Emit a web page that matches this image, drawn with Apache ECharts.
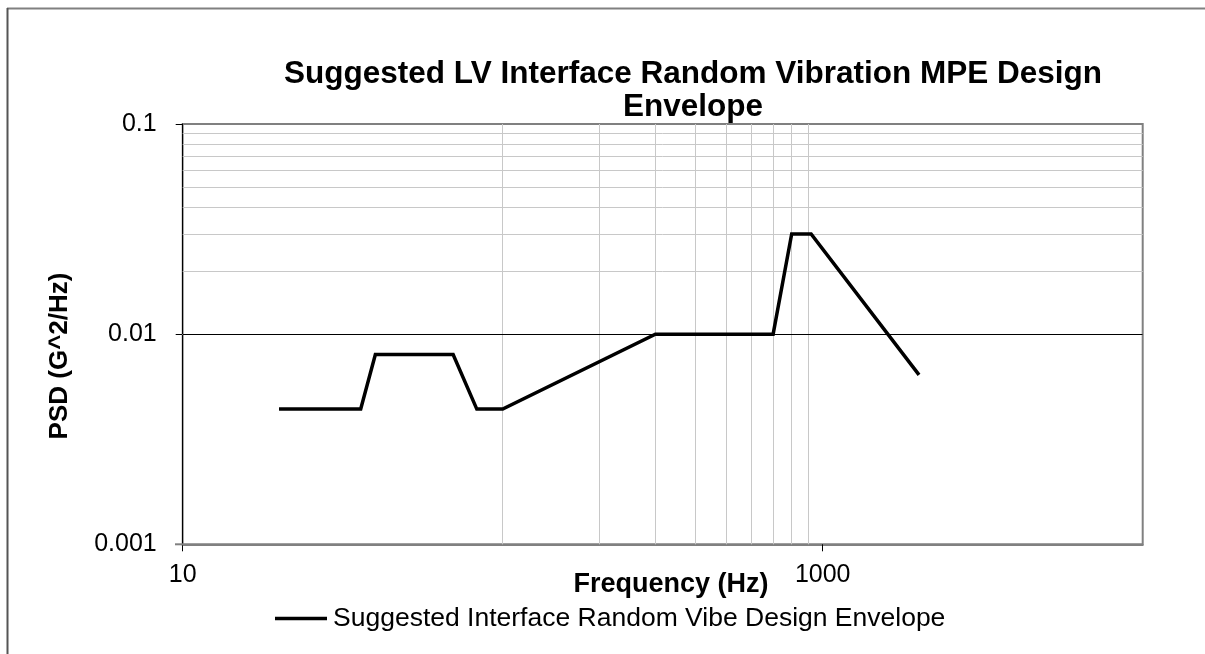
<!DOCTYPE html>
<html>
<head>
<meta charset="utf-8">
<script src="https://cdn.jsdelivr.net/npm/echarts@6/dist/echarts.min.js"></script>
<style>
html,body{margin:0;padding:0;background:#fff;}
#chart{width:1205px;height:654px;}
</style>
</head>
<body>
<div id="chart"></div>
<script>
// ---- data ----
const frequency = [20, 36, 40, 70, 83, 100, 300, 700, 800, 920, 2000];
const psd = [0.0044, 0.0044, 0.008, 0.008, 0.0044, 0.0044, 0.01, 0.01, 0.03, 0.03, 0.0064];
const seriesName = 'Suggested Interface Random Vibe Design Envelope';
const titleText = 'Suggested LV Interface Random Vibration MPE Design\nEnvelope';
const xAxisTitle = 'Frequency (Hz)';
const yAxisTitle = 'PSD (G^2/Hz)';
const xTickValues = [10, 1000];
const yTickValues = [0.001, 0.01, 0.1];
const xMinorGrid = [100, 200, 300, 400, 500, 600, 700, 800, 900];
const yMinorGrid = [0.002, 0.003, 0.004, 0.005, 0.006, 0.007, 0.008, 0.009,
                    0.02, 0.03, 0.04, 0.05, 0.06, 0.07, 0.08, 0.09];
const yMajorGrid = [0.01];

const FONT = "'Liberation Sans', Arial, sans-serif";
const points = frequency.map((f, i) => [f, psd[i]]);
const fmt = v => String(+(+v).toPrecision(6));

const gridLineData = []
  .concat(xMinorGrid.map(v => ({ xAxis: v, lineStyle: { color: '#c8c8c8', width: 1, type: 'solid' } })))
  .concat(yMinorGrid.map(v => ({ yAxis: v, lineStyle: { color: '#c8c8c8', width: 1, type: 'solid' } })))
  .concat(yMajorGrid.map(v => ({ yAxis: v, lineStyle: { color: '#000000', width: 1, type: 'solid' } })));

const chart = echarts.init(document.getElementById('chart'), null, { renderer: 'canvas' });
chart.setOption({
  animation: false,
  backgroundColor: '#ffffff',
  textStyle: { fontFamily: FONT },
  title: {
    text: titleText,
    left: 693, top: 58, textAlign: 'center', padding: 0,
    textStyle: { fontFamily: FONT, fontSize: 31.5, fontWeight: 'bold', color: '#000', lineHeight: 33 }
  },
  legend: {
    data: [seriesName],
    left: 275, top: 605, padding: 0,
    icon: 'rect', itemWidth: 52, itemHeight: 3.5, itemGap: 10,
    itemStyle: { color: '#000', borderWidth: 0 },
    textStyle: { fontFamily: FONT, fontSize: 26.5, color: '#000', padding: [0, 0, 0, 1] }
  },
  grid: {
    left: 182.7, right: 62.3, top: 124, bottom: 109.7,
    show: true, borderColor: '#808080', borderWidth: 2, backgroundColor: 'transparent',
    containLabel: false, outerBoundsMode: 'none'
  },
  xAxis: {
    type: 'log', logBase: 10, min: 10, max: 10000,
    axisLine: { show: true, lineStyle: { color: '#808080', width: 2 } },
    axisTick: { show: true, customValues: xTickValues, length: 7, lineStyle: { color: '#000', width: 1 } },
    axisLabel: { customValues: xTickValues, formatter: fmt, fontSize: 25, margin: 18, color: '#000', fontFamily: FONT },
    splitLine: { show: false },
    minorTick: { show: false }, minorSplitLine: { show: false }
  },
  yAxis: {
    type: 'log', logBase: 10, min: 0.001, max: 0.1,
    axisLine: { show: true, lineStyle: { color: '#000', width: 1 } },
    axisTick: { show: true, customValues: yTickValues, length: 7, lineStyle: { color: '#000', width: 1 } },
    axisLabel: { customValues: yTickValues, formatter: fmt, fontSize: 25, margin: 26, color: '#000', fontFamily: FONT },
    splitLine: { show: false }
  },
  graphic: [
    { type: 'line', z: 100, shape: { x1: 7, y1: 8.5, x2: 1205, y2: 8.5 }, style: { stroke: '#808080', lineWidth: 2 } },
    { type: 'line', z: 100, shape: { x1: 7.5, y1: 8, x2: 7.5, y2: 654 }, style: { stroke: '#555555', lineWidth: 2 } },
    { type: 'line', z: 100, shape: { x1: 175, y1: 544.3, x2: 183, y2: 544.3 }, style: { stroke: '#808080', lineWidth: 2 } },
    { type: 'text', z: 100, x: 60, y: 356, rotation: Math.PI / 2,
      style: { text: yAxisTitle, fill: '#000', font: "bold 26px 'Liberation Sans', Arial, sans-serif", align: 'center', verticalAlign: 'middle' } },
    { type: 'text', z: 100, x: 671, y: 585,
      style: { text: xAxisTitle, fill: '#000', font: "bold 27px 'Liberation Sans', Arial, sans-serif", align: 'center', verticalAlign: 'middle' } }
  ],
  series: [
    {
      name: 'gridlines', type: 'line', data: [], z: 1, silent: true,
      markLine: { silent: true, symbol: ['none', 'none'], label: { show: false }, animation: false, data: gridLineData }
    },
    {
      name: seriesName, type: 'line', data: points, z: 5,
      symbol: 'none', showSymbol: false,
      lineStyle: { color: '#000', width: 3.5, join: 'miter' },
      itemStyle: { color: '#000' }
    }
  ]
});
</script>
</body>
</html>
